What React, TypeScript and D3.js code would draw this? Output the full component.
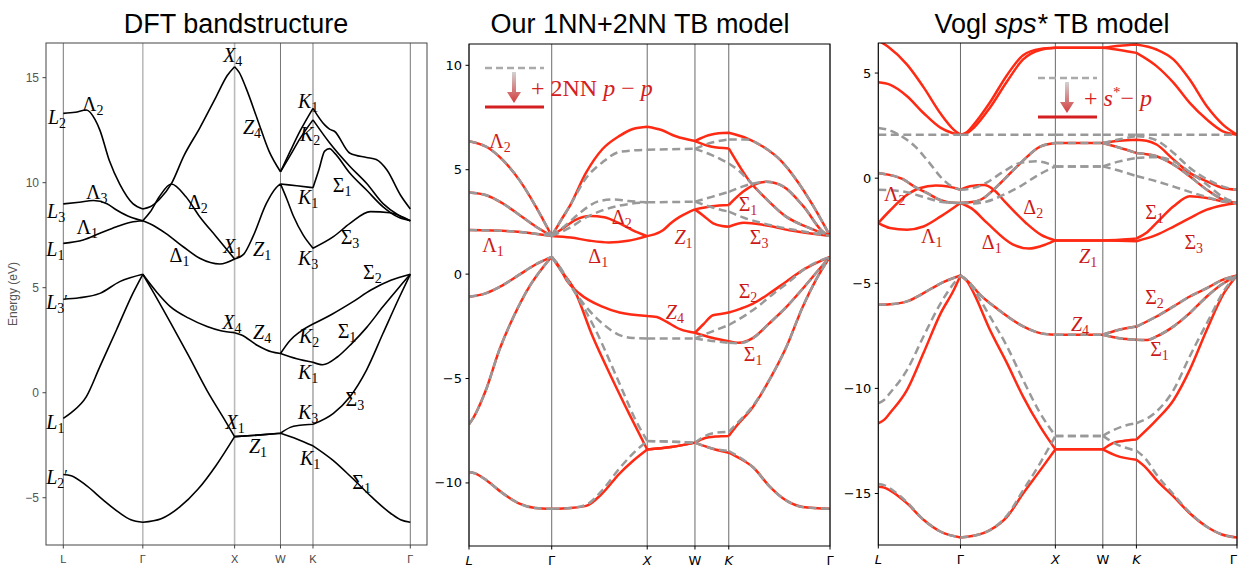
import React from "react";
import * as d3 from "d3";

type Pt = [number, number];
// [symbol, subscript, prime, k, energy]
type Label = [string, string, string, number, number];

// k is the index along L-Γ-X-W-K-Γ; kDist is the real path length (2π/a)
const kPoints = ["L", "Γ", "X", "W", "K", "Γ"];
const kItalic = [true, false, true, false, true, false];
const kDist = [0, 0.866, 1.866, 2.366, 2.72, 3.78];

const dftTicks = [-5, 0, 5, 10, 15];
const tbTicks = [-10, -5, 0, 5, 10];
const voglTicks = [-15, -10, -5, 0, 5];

// ---------- DFT bands (eV) ----------
const dftBands: Pt[][] = [
  [[0, -3.89], [0.1, -3.95], [0.3, -4.45], [0.5, -5.1], [0.7, -5.7], [0.85, -6.05], [1, -6.17], [1.2, -6.0], [1.4, -5.45], [1.6, -4.6], [1.8, -3.45], [2, -2.09], [2.5, -2.02], [3, -1.93], [3.5, -2.2], [4, -2.53], [4.2, -3.2], [4.4, -4.05], [4.6, -4.95], [4.8, -5.75], [4.9, -6.05], [5, -6.17]],
  [[0, -1.22], [0.1, -0.95], [0.29, -0.19], [0.46, 1.24], [0.67, 3.0], [0.875, 4.73], [1, 5.64], [1.1, 4.9], [1.3, 3.35], [1.5, 1.75], [1.7, 0.1], [1.9, -1.35], [2, -2.09], [2.5, -2.02], [3, -1.93], [3.3, -1.65], [3.6, -1.55], [4, -1.5], [4.21, -0.98], [4.38, -0.19], [4.55, 1.08], [4.72, 2.83], [4.89, 4.57], [5, 5.64]],
  [[0, 4.45], [0.2, 4.52], [0.46, 4.73], [0.71, 5.29], [1, 5.64], [1.15, 4.8], [1.3, 4.1], [1.5, 3.55], [1.7, 3.15], [1.85, 2.95], [2, 2.86], [2.15, 2.75], [2.5, 2.25], [2.8, 1.95], [3, 1.87], [3.5, 1.62], [4, 1.45], [4.1, 1.33], [4.25, 1.7], [4.4, 2.35], [4.55, 3.1], [4.72, 4.1], [4.89, 5.05], [5, 5.64]],
  [[3, 1.87], [3.3, 2.5], [3.6, 2.9], [4, 3.27], [4.2, 3.75], [4.4, 4.3], [4.6, 4.9], [4.8, 5.35], [5, 5.64]],
  [[0, 7.11], [0.25, 7.27], [0.46, 7.59], [0.67, 7.9], [0.85, 8.12], [1, 8.19], [1.1, 8.0], [1.25, 7.59], [1.44, 6.95], [1.62, 6.4], [1.84, 6.13], [2, 6.37], [2.2, 6.6], [2.4, 7.43], [2.69, 9.0], [2.9, 9.75], [3, 9.94], [3.2, 9.2], [3.4, 8.4], [3.7, 7.5], [4, 6.88], [4.21, 7.43], [4.38, 8.06], [4.59, 8.62], [4.79, 8.57], [5, 8.19]],
  [[0, 8.99], [0.2, 9.07], [0.38, 9.15], [0.55, 9.0], [0.67, 8.7], [0.85, 8.35], [1, 8.19], [1.08, 8.6], [1.18, 9.33], [1.31, 9.94], [1.47, 9.33], [1.62, 8.38], [1.8, 7.43], [2, 6.37]],
  [[3, 9.94], [3.5, 9.85], [4, 9.76], [4.06, 10.6], [4.12, 11.5], [4.17, 11.62], [4.22, 11.42], [4.38, 10.45], [4.55, 9.65], [4.72, 8.85], [4.88, 8.35], [5, 8.19]],
  [[0, 13.3], [0.15, 13.35], [0.29, 13.46], [0.4, 13.0], [0.46, 12.5], [0.58, 11.04], [0.71, 9.93], [0.875, 9.0], [1, 8.75], [1.08, 8.85], [1.18, 9.2], [1.31, 9.94], [1.45, 11.3], [1.62, 12.6], [1.8, 14.1], [1.92, 15.1], [2, 15.52], [2.1, 15.25], [2.25, 14.5], [2.5, 13.0], [2.75, 11.5], [3, 10.52], [3.3, 11.3], [3.6, 12.1], [4, 12.99], [4.17, 11.9], [4.38, 10.77], [4.55, 9.97], [4.72, 9.0], [4.88, 8.45], [5, 8.19]],
  [[3, 10.52], [3.3, 11.5], [3.6, 12.45], [4, 13.54], [4.12, 12.75], [4.17, 12.55], [4.22, 12.45], [4.38, 11.4], [4.55, 11.2], [4.65, 11.1], [4.76, 10.6], [4.9, 9.4], [5, 8.75]],
];

const dftLabels: Label[] = [
  ["L", "2", "", -0.08, 13.08], ["Λ", "2", "", 0.37, 13.7], ["X", "4", "", 1.98, 16.03], ["K", "1", "", 3.85, 13.84],
  ["Z", "4", "", 2.38, 12.61], ["K", "2", "", 3.91, 12.27], ["Λ", "3", "", 0.42, 9.51], ["L", "3", "", -0.09, 8.6],
  ["Δ", "2", "", 1.6, 9.03], ["Σ", "1", "", 4.3, 9.84], ["K", "1", "", 3.85, 9.27], ["Λ", "1", "", 0.3, 7.84],
  ["L", "1", "", -0.1, 6.8], ["X", "1", "", 1.98, 6.94], ["Z", "1", "", 2.6, 6.8], ["Δ", "1", "", 1.4, 6.5],
  ["K", "3", "", 3.85, 6.37], ["Σ", "3", "", 4.38, 7.37], ["Σ", "2", "", 4.61, 5.7], ["L", "3", "′", -0.08, 4.27],
  ["X", "4", "", 1.97, 3.32], ["Z", "4", "", 2.6, 2.84], ["K", "2", "", 3.88, 2.65], ["Σ", "1", "", 4.35, 2.89],
  ["K", "1", "", 3.85, 0.94], ["Σ", "3", "", 4.43, -0.35], ["L", "1", "", -0.1, -1.45], ["X", "1", "", 2.01, -1.45],
  ["K", "3", "", 3.85, -0.97], ["Z", "1", "", 2.51, -2.59], ["K", "1", "", 3.91, -3.16], ["L", "2", "′", -0.08, -4.06],
  ["Σ", "1", "", 4.5, -4.3],
];

// ---------- our 1NN+2NN TB model ----------
const tbLowLG: Pt[] = [[0, -9.47], [0.08, -9.55], [0.21, -9.87], [0.41, -10.5], [0.61, -10.99], [0.8, -11.2], [1, -11.24]];
const tbLowKG: Pt[] = [[4.24, -9.25], [4.4, -10.15], [4.57, -10.85], [4.73, -11.15], [5, -11.24]];
const tbMidLG: Pt[] = [[0, -7.19], [0.05, -6.9], [0.2, -5.6], [0.37, -3.6], [0.55, -1.95], [0.73, -0.6], [0.9, 0.35], [1, 0.83]];
const tbMidKG: Pt[] = [[4.4, -5.08], [4.57, -3.48], [4.73, -1.57], [4.86, -0.29], [5, 0.83]];
const tbTopLG: Pt[] = [[0, -1.09], [0.2, -0.92], [0.4, -0.55], [0.6, -0.05], [0.8, 0.45], [1, 0.83]];
const tbTopKG: Pt[] = [[4.4, -2.36], [4.57, -1.57], [4.73, -0.7], [4.87, 0.1], [5, 0.83]];
const tbC1LG: Pt[] = [[0, 2.11], [0.5, 2.05], [1, 1.83]];
const tbC2LG: Pt[] = [[0, 3.91], [0.21, 3.78], [0.41, 3.38], [0.61, 2.83], [0.81, 2.27], [1, 1.83]];
const tbC3LG: Pt[] = [[0, 6.37], [0.21, 6.1], [0.41, 5.46], [0.61, 4.5], [0.81, 3.22], [1, 1.83]];
const tbPeakKG: Pt[] = [[4.37, 4.42], [4.54, 4.19], [4.74, 3.23], [4.93, 2.03], [5, 1.83]];
const tbDownKG: Pt[] = [[4.21, 4.42], [4.35, 3.7], [4.57, 2.74], [4.77, 2.26], [5, 1.83]];
const tbHighKG: Pt[] = [[4.34, 6.1], [4.51, 5.46], [4.67, 4.5], [4.84, 3.22], [5, 1.83]];

const tbRed: Pt[][] = [
  [...tbLowLG, [1.2, -11.2], [1.36, -11.1], [1.53, -10.5], [1.71, -9.55], [1.85, -8.95], [2, -8.4], [2.5, -8.28], [3, -8.07], [3.5, -8.35], [4, -8.55], [4.1, -8.8], ...tbLowKG],
  [...tbMidLG, [1.1, 0.15], [1.22, -0.6], [1.43, -3.0], [1.64, -5.08], [1.81, -6.68], [2, -8.4], [2.5, -8.28], [3, -8.07], [3.3, -7.85], [3.6, -7.78], [4, -7.75], [4.07, -7.31], [4.24, -6.35], ...tbMidKG],
  [...tbTopLG, [1.08, 0.35], [1.15, -0.25], [1.29, -0.93], [1.53, -1.56], [1.71, -1.84], [2, -2.0], [2.2, -2.05], [2.4, -2.28], [2.7, -2.65], [3, -2.81], [3.5, -3.05], [4, -3.21], [4.1, -3.29], [4.24, -3.05], ...tbTopKG],
  [[3, -2.81], [3.25, -2.4], [3.53, -1.97], [3.8, -1.9], [4, -1.84], [4.12, -1.65], [4.24, -1.41], [4.4, -0.93], [4.57, -0.35], [4.75, 0.25], [5, 0.83]],
  [...tbC1LG, [1.2, 1.75], [1.4, 1.6], [1.6, 1.52], [1.8, 1.6], [2, 1.82], [2.15, 1.9], [2.33, 2.1], [2.5, 2.45], [2.68, 2.74], [2.85, 2.95], [3, 3.1], [3.25, 2.8], [3.54, 2.43], [3.8, 2.3], [4, 2.27], [4.15, 2.46], [4.35, 2.35], [4.6, 2.1], [4.85, 1.92], [5, 1.83]],
  [...tbC2LG, [1.12, 2.2], [1.25, 2.6], [1.4, 2.78], [1.55, 2.72], [1.7, 2.45], [1.85, 2.1], [2, 1.82]],
  [[3, 3.1], [3.5, 3.25], [4, 3.31], [4.14, 3.94], [4.28, 4.34], ...tbPeakKG],
  [[1, 1.83], [1.1, 2.6], [1.19, 3.27], [1.36, 4.86], [1.53, 5.98], [1.71, 6.62], [1.85, 6.95], [2, 7.06], [2.3, 6.9], [2.6, 6.6], [3, 6.37], [3.5, 6.1], [4, 6.02], [4.11, 5.14], ...tbDownKG],
  tbC3LG,
  [[3, 6.37], [3.4, 6.65], [3.7, 6.75], [4, 6.77], [4.18, 6.5], ...tbHighKG],
];

const tbGray: Pt[][] = [
  [...tbLowLG, [1.2, -11.2], [1.36, -11.05], [1.53, -10.35], [1.71, -9.3], [1.85, -8.6], [2, -7.99], [2.5, -8.02], [3, -8.07], [3.4, -8.3], [4, -8.47], [4.1, -8.75], ...tbLowKG],
  [...tbMidLG, [1.1, 0.15], [1.22, -0.7], [1.46, -2.68], [1.71, -5.24], [1.88, -7.0], [2, -7.99], [2.5, -8.02], [3, -8.07], [3.3, -7.75], [3.6, -7.6], [4, -7.55], [4.07, -7.2], [4.24, -6.3], ...tbMidKG],
  [...tbTopLG, [1.1, 0.25], [1.2, -0.55], [1.36, -1.57], [1.53, -2.36], [1.71, -2.92], [1.85, -3.06], [2, -3.08], [2.5, -3.08], [3, -3.08], [3.5, -3.2], [4, -3.29], [4.1, -3.31], [4.24, -3.07], ...tbTopKG],
  [[3, -3.08], [3.5, -2.75], [4, -2.44], [4.17, -1.95], [4.3, -1.5], [4.45, -0.9], [4.6, -0.35], [4.75, 0.25], [5, 0.83]],
  [...tbC1LG, [1.2, 2.25], [1.36, 2.72], [1.53, 3.05], [1.71, 3.28], [2, 3.44], [2.5, 3.45], [3, 3.47], [3.5, 3.2], [4, 2.99], [4.15, 2.7], [4.34, 2.43], [4.5, 2.25], [4.67, 2.1], [5, 1.83]],
  [...tbC2LG, [1.15, 2.35], [1.3, 2.95], [1.5, 3.5], [1.65, 3.58], [1.8, 3.5], [2, 3.44]],
  [[3, 3.47], [3.5, 3.7], [4, 3.94], [4.14, 4.2], [4.28, 4.38], ...tbPeakKG],
  [[1, 1.83], [1.1, 2.6], [1.19, 3.27], [1.36, 4.6], [1.53, 5.35], [1.71, 5.85], [2, 5.96], [2.5, 5.98], [3, 6.0], [3.5, 5.7], [4, 5.3], [4.1, 4.95], ...tbDownKG],
  tbC3LG,
  [[3, 6.0], [3.5, 6.3], [4, 6.45], [4.17, 6.45], ...tbHighKG],
];

const tbLabels: Label[] = [
  ["Λ", "2", "", 0.375, 6.34], ["Λ", "1", "", 0.29, 1.34], ["Δ", "2", "", 1.734, 2.67], ["Δ", "1", "", 1.488, 0.83],
  ["Z", "1", "", 2.76, 1.71], ["Σ", "1", "", 4.19, 3.31], ["Σ", "3", "", 4.3, 1.71], ["Σ", "2", "", 4.19, -0.85],
  ["Z", "4", "", 2.58, -1.88], ["Σ", "1", "", 4.24, -3.88],
];

// ---------- Vogl sps* TB model ----------
const vTopValence: Pt[] = [[0, -6.02], [0.14, -6.0], [0.35, -5.86], [0.55, -5.47], [0.76, -5.0], [1, -4.63], [1.1, -5.0], [1.19, -5.47], [1.4, -6.26], [1.66, -7.05], [1.84, -7.37], [2, -7.45], [2.5, -7.45], [3, -7.45], [3.5, -7.62], [4, -7.69], [4.1, -7.7], [4.2, -7.53], [4.37, -7.05], [4.53, -6.42], [4.7, -5.63], [4.85, -5.05], [5, -4.63]];
const vSigma2: Pt[] = [[3, -7.45], [3.4, -7.25], [4, -7.06], [4.2, -6.58], [4.37, -6.1], [4.53, -5.63], [4.7, -5.23], [4.85, -4.85], [5, -4.63]];
const vSharedCond: Pt[] = [[0, 0.25], [0.12, 0.17], [0.3, -0.05], [0.43, -0.38], [0.59, -0.7], [0.76, -1.05], [0.9, -1.17], [1, -1.18], [1.1, -1.15], [1.21, -1.03], [1.42, -0.24], [1.63, 0.71], [1.84, 1.5], [2, 1.67], [2.5, 1.67], [3, 1.67], [3.5, 1.45], [4, 1.2], [4.2, 1.04], [4.37, 0.64], [4.53, 0.09], [4.7, -0.55], [4.86, -1.02], [5, -1.18]];
const vLowLG: Pt[] = [[0.55, -16.25], [0.76, -16.82], [1, -17.09], [1.15, -17.0], [1.31, -16.74]];

const voglRed: Pt[][] = [
  [[0, -14.68], [0.07, -14.72], [0.14, -14.85], [0.35, -15.47], ...vLowLG, [1.49, -16.11], [1.66, -15.0], [1.84, -13.9], [2, -12.9], [2.5, -12.9], [3, -12.9], [3.4, -13.2], [4, -13.4], [4.1, -13.8], [4.2, -14.36], [4.37, -15.15], [4.53, -15.94], [4.7, -16.58], [4.85, -16.95], [5, -17.09]],
  [[0, -11.66], [0.07, -11.5], [0.14, -11.18], [0.35, -10.07], [0.55, -8.32], [0.76, -6.42], [0.92, -5.31], [1, -4.63], [1.07, -4.9], [1.14, -5.47], [1.31, -7.21], [1.49, -8.8], [1.66, -10.39], [1.84, -11.82], [2, -12.9], [2.5, -12.9], [3, -12.9], [3.3, -12.6], [3.6, -12.5], [4, -12.43], [4.2, -11.5], [4.37, -10.55], [4.53, -9.12], [4.7, -7.21], [4.87, -5.47], [5, -4.63]],
  vTopValence,
  vSigma2,
  [[0, -2.13], [0.14, -2.37], [0.35, -2.45], [0.55, -2.3], [0.76, -1.82], [1, -1.18], [1.12, -1.45], [1.28, -2.13], [1.55, -3.15], [1.72, -3.35], [1.9, -3.15], [2, -2.96], [2.5, -2.96], [3, -2.96], [3.5, -2.98], [4, -3.0], [4.2, -2.7], [4.37, -2.3], [4.53, -1.9], [4.7, -1.5], [4.85, -1.3], [5, -1.18]],
  [[0, -2.13], [0.14, -1.55], [0.33, -0.85], [0.5, -0.48], [0.7, -0.35], [0.85, -0.4], [1, -0.55], [1.1, -0.38], [1.25, -0.33], [1.35, -0.55], [1.48, -1.18], [1.69, -2.13], [1.85, -2.7], [2, -2.96], [2.5, -2.96], [3, -2.96], [3.5, -2.93], [4, -2.87], [4.1, -2.6], [4.2, -2.13], [4.37, -1.34], [4.53, -0.86], [4.7, -0.94], [4.85, -1.1], [5, -1.18]],
  vSharedCond,
  [[3, 1.67], [3.5, 1.78], [4, 1.83], [4.1, 1.78], [4.2, 1.6], [4.37, 0.88], [4.53, 0.25], [4.7, -0.15], [4.86, -0.47], [5, -0.55]],
  [[0, 6.55], [0.12, 6.25], [0.35, 5.4], [0.55, 4.33], [0.76, 3.06], [0.92, 2.3], [1, 2.07], [1.07, 2.2], [1.14, 2.55], [1.31, 3.6], [1.49, 4.9], [1.66, 5.85], [1.84, 6.15], [2, 6.2], [2.5, 6.2], [3, 6.2], [3.5, 6.3], [4, 6.36], [4.2, 6.12], [4.37, 5.64], [4.53, 4.69], [4.7, 3.42], [4.86, 2.55], [5, 2.07]],
  [[0, 4.56], [0.14, 4.45], [0.35, 3.9], [0.55, 3.1], [0.76, 2.39], [0.9, 2.15], [1, 2.07], [1.07, 2.15], [1.14, 2.4], [1.31, 3.35], [1.49, 4.6], [1.66, 5.65], [1.84, 6.1], [2, 6.2], [2.5, 6.2], [3, 6.2], [3.5, 6.1], [4, 5.96], [4.2, 5.33], [4.37, 4.53], [4.53, 3.58], [4.7, 2.79], [4.86, 2.23], [5, 2.07]],
];

const voglGray: Pt[][] = [
  [[0, -14.55], [0.07, -14.6], [0.14, -14.75], [0.35, -15.42], ...vLowLG, [1.49, -16.05], [1.66, -14.85], [1.84, -13.55], [2, -12.26], [2.5, -12.26], [3, -12.26], [3.4, -12.65], [4, -12.96], [4.1, -13.4], [4.2, -14.1], [4.37, -15.05], [4.53, -15.9], [4.7, -16.58], [4.85, -16.95], [5, -17.09]],
  [[0, -10.71], [0.07, -10.55], [0.14, -10.23], [0.35, -9.12], [0.55, -7.53], [0.76, -5.94], [0.92, -5.0], [1, -4.63], [1.07, -4.85], [1.14, -5.3], [1.31, -6.58], [1.49, -8.0], [1.66, -9.6], [1.84, -11.18], [2, -12.26], [2.5, -12.26], [3, -12.26], [3.3, -12.0], [3.6, -11.8], [4, -11.66], [4.2, -11.1], [4.37, -10.07], [4.53, -8.48], [4.7, -6.9], [4.9, -5.15], [5, -4.63]],
  vTopValence,
  vSigma2,
  [[0, 2.07], [1, 2.07], [2, 2.07], [3, 2.07], [4, 2.07], [5, 2.07]],
  [[0, 2.39], [0.12, 2.3], [0.3, 1.95], [0.45, 1.5], [0.59, 0.88], [0.79, -0.07], [0.92, -0.45], [1, -0.55], [1.15, -0.45], [1.28, -0.2], [1.45, 0.3], [1.63, 0.72], [1.8, 0.8], [2, 0.56], [2.5, 0.56], [3, 0.56], [3.5, 0.35], [4, 0.1], [4.2, -0.15], [4.37, -0.4], [4.53, -0.65], [4.7, -0.9], [4.86, -1.1], [5, -1.18]],
  [[0, -0.55], [0.3, -0.63], [0.53, -0.87], [0.8, -1.15], [1, -1.18], [1.15, -1.2], [1.28, -1.11], [1.45, -0.8], [1.63, -0.39], [1.8, 0.1], [2, 0.56], [2.5, 0.56], [3, 0.56], [3.5, 0.8], [4, 0.96], [4.2, 1.0], [4.37, 0.8], [4.53, 0.3], [4.7, -0.3], [4.86, -0.9], [5, -1.18]],
  vSharedCond,
  [[3, 1.67], [3.5, 1.85], [4, 2.0], [4.1, 1.95], [4.2, 1.8], [4.37, 1.2], [4.53, 0.5], [4.7, -0.05], [4.86, -0.4], [5, -0.55]],
];

const voglLabels: Label[] = [
  ["Λ", "2", "", 0.2, -0.8], ["Λ", "1", "", 0.65, -2.78], ["Δ", "2", "", 1.767, -1.43], ["Δ", "1", "", 1.329, -3.1],
  ["Z", "1", "", 2.69, -3.73], ["Σ", "1", "", 4.18, -1.67], ["Σ", "3", "", 4.57, -3.1], ["Z", "4", "", 2.52, -6.99],
  ["Σ", "2", "", 4.18, -5.71], ["Σ", "1", "", 4.23, -8.17],
];

const RED = "#ff2a14";
const GRAY = "#999999";
const LABEL_RED = "#cc1a1a";
const SERIF = "'Liberation Serif', 'DejaVu Serif', serif";
const SANS = "'Liberation Sans', Arial, sans-serif";

type Series = { bands: Pt[][]; color: string; width: number; dash?: string };
type Frame = { left: number; right: number; top: number; bottom: number };

function Panel(props: {
  id: string; frame: Frame; kRange: [number, number]; eDomain: [number, number];
  ticks: number[]; series: Series[]; labels: Label[]; labelColor: string; dft?: boolean; edgeRight?: boolean;
}) {
  const { id, frame, kRange, eDomain, ticks, series, labels, labelColor, dft, edgeRight } = props;
  const dist = d3.scaleLinear().domain([0, 1, 2, 3, 4, 5]).range(kDist);
  const xs = d3.scaleLinear().domain([0, kDist[5]]).range(kRange);
  const x = (k: number) => xs(dist(k));
  const y = d3.scaleLinear().domain(eDomain).range([frame.bottom, frame.top]);
  const line = d3.line<Pt>().x((d) => x(d[0])).y((d) => y(d[1])).curve(d3.curveMonotoneX);
  // one smooth piece per path segment, so kinks stay at the high-symmetry points
  const bandPath = (pts: Pt[]) =>
    d3.range(5)
      .map((s) => pts.filter((p) => p[0] >= s && p[0] <= s + 1))
      .filter((seg) => seg.length > 1)
      .map((seg) => line(seg))
      .join("");

  const axisColor = dft ? "#444" : "#000";
  const fmt = (v: number) => (v < 0 ? "\u2212" + Math.abs(v) : String(v));

  return (
    <g>
      <clipPath id={id}>
        <rect x={frame.left} y={frame.top} width={frame.right - frame.left} height={frame.bottom - frame.top} />
      </clipPath>
      {kPoints.map((_, i) => {
        const light = dft && (i === 1 || i === 2);
        return (
          <line key={i} x1={x(i)} x2={x(i)} y1={frame.top} y2={frame.bottom}
            stroke={dft ? (light ? "#bbb" : "#777") : "#444"} strokeWidth={dft ? (light ? 1.6 : 1) : 0.8} />
        );
      })}
      <g clipPath={`url(#${id})`} fill="none" strokeLinejoin="round">
        {series.map((s, si) =>
          s.bands.map((b, bi) => (
            <path key={`${si}-${bi}`} d={bandPath(b)} stroke={s.color} strokeWidth={s.width}
              strokeDasharray={s.dash} />
          ))
        )}
      </g>
      <rect x={frame.left} y={frame.top} width={frame.right - frame.left} height={frame.bottom - frame.top}
        fill="none" stroke={axisColor} strokeWidth={1} />
      {ticks.map((t) => (
        <g key={t}>
          <line x1={frame.left - 3.5} x2={frame.left} y1={y(t)} y2={y(t)} stroke={axisColor} />
          <text x={frame.left - 7} y={y(t)} dy="0.35em" textAnchor="end"
            fontFamily={dft ? SANS : "'DejaVu Sans', sans-serif"} fontSize={dft ? 12 : 13}
            fill={dft ? "#555" : "#000"}>{fmt(t)}</text>
        </g>
      ))}
      {kPoints.map((p, i) => {
        const atEdge = edgeRight && i === kPoints.length - 1;
        return (
          <g key={i}>
            <line x1={x(i)} x2={x(i)} y1={frame.bottom} y2={frame.bottom + 3.5} stroke={axisColor} />
            <text x={atEdge ? x(i) : x(i)} y={dft ? frame.bottom + 18 : frame.bottom + 19}
              textAnchor={atEdge ? "end" : "middle"}
              fontFamily={dft ? SANS : "'DejaVu Sans', sans-serif"} fontSize={dft ? 11 : 13}
              fontStyle={!dft && kItalic[i] ? "italic" : "normal"} fill={dft ? "#444" : "#000"}>{p}</text>
          </g>
        );
      })}
      {labels.map(([base, sub, prime, k, e], i) => (
        <text key={i} x={x(k)} y={y(e) + 6} textAnchor="middle" fontFamily={SERIF} fontSize={20} fill={labelColor}>
          <tspan fontStyle={/[A-Z]/.test(base) ? "italic" : "normal"}>{base}</tspan>
          <tspan fontSize={14} dy={4}>{sub}</tspan>
          {prime ? <tspan fontSize={16} dy={-7}>{prime}</tspan> : null}
        </text>
      ))}
    </g>
  );
}

function Legend({ x0, y0, children }: { x0: number; y0: number; children: React.ReactNode }) {
  const cx = x0 + 29;
  return (
    <g>
      <line x1={x0} x2={x0 + 59} y1={y0} y2={y0} stroke="#aaa" strokeWidth={2.5} strokeDasharray="7,4" />
      <path d={`M${cx - 2},${y0 + 4}H${cx + 2}V${y0 + 24}H${cx + 7}L${cx},${y0 + 35}L${cx - 7},${y0 + 24}H${cx - 2}Z`}
        fill="url(#arrowGrad)" />
      <line x1={x0} x2={x0 + 59} y1={y0 + 39} y2={y0 + 39} stroke="#d42020" strokeWidth={3} />
      <text x={x0 + 46} y={y0 + 28} fontFamily={SERIF} fontSize={24} fill="#d42020">{children}</text>
    </g>
  );
}

export default function App() {
  const tbFrame = { left: 469, right: 830, top: 44, bottom: 546 };
  const voglFrame = { left: 878.3, right: 1237, top: 43, bottom: 545 };
  return (
    <svg width={1238} height={567} style={{ position: "absolute", left: 0, top: 0 }}>
      <defs>
        <linearGradient id="arrowGrad" x1="0" y1="0" x2="0" y2="1">
          <stop offset="0" stopColor="#d2d2d2" />
          <stop offset="1" stopColor="#d43c3c" />
        </linearGradient>
      </defs>
      <rect width={1238} height={567} fill="#fff" />

      <text x={236} y={33} textAnchor="middle" fontFamily={SANS} fontSize={27}>DFT bandstructure</text>
      <text x={640} y={33} textAnchor="middle" fontFamily={SANS} fontSize={27}>Our 1NN+2NN TB model</text>
      <text x={1052} y={33} textAnchor="middle" fontFamily={SANS} fontSize={27}>
        Vogl <tspan fontStyle="italic">sps*</tspan> TB model
      </text>

      <Panel id="c1" frame={{ left: 46, right: 427, top: 43, bottom: 545 }} kRange={[63.3, 410.3]}
        eDomain={[-7.25, 16.65]} ticks={dftTicks} dft
        series={[{ bands: dftBands, color: "#000", width: 1.6 }]} labels={dftLabels} labelColor="#000" />
      <text transform="translate(17,294) rotate(-90)" textAnchor="middle" fontFamily={SANS} fontSize={12} fill="#555">
        Energy (eV)
      </text>

      <Panel id="c2" frame={tbFrame} kRange={[469, 830]} eDomain={[-13.02, 11.02]} ticks={tbTicks}
        series={[{ bands: tbRed, color: RED, width: 2.5 }, { bands: tbGray, color: GRAY, width: 2.5, dash: "8,4.5" }]}
        labels={tbLabels} labelColor={LABEL_RED} />
      <Legend x0={485} y0={68}>
        + 2NN <tspan fontStyle="italic">p</tspan> − <tspan fontStyle="italic">p</tspan>
      </Legend>

      <Panel id="c3" frame={voglFrame} kRange={[878.3, 1237]} eDomain={[-17.45, 6.43]} ticks={voglTicks} edgeRight
        series={[{ bands: voglRed, color: RED, width: 2.5 }, { bands: voglGray, color: GRAY, width: 2.5, dash: "8,4.5" }]}
        labels={voglLabels} labelColor={LABEL_RED} />
      <Legend x0={1038} y0={78}>
        + <tspan fontStyle="italic">s</tspan><tspan fontSize={15} dy={-9}>*</tspan><tspan dy={9}>− </tspan>
        <tspan fontStyle="italic">p</tspan>
      </Legend>
    </svg>
  );
}
